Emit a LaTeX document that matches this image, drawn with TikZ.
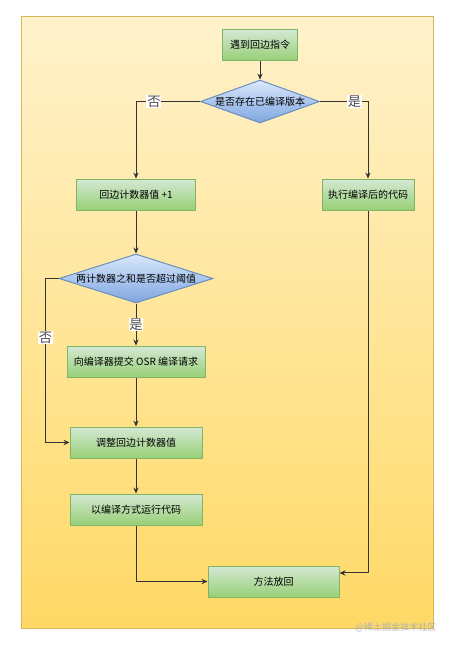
\documentclass[tikz,border=0pt]{standalone}
\usepackage{fontspec}
\setmainfont{Noto Sans CJK SC}
\usepackage{tikz}
\usetikzlibrary{arrows.meta,positioning,shapes.geometric}
\definecolor{osrbg}{HTML}{FFF2CC}
\definecolor{osrbgd}{HTML}{FFD966}
\definecolor{osrbgline}{HTML}{D6B656}
\definecolor{osrgreen}{HTML}{D5E8D4}
\definecolor{osrgreend}{HTML}{97D077}
\definecolor{osrgreenline}{HTML}{82B366}
\definecolor{osrblue}{HTML}{DAE8FC}
\definecolor{osrblued}{HTML}{7EA6E0}
\definecolor{osrblueline}{HTML}{6C8EBF}
\definecolor{osrline}{HTML}{333333}
\tikzset{
  stepbox/.style  = {draw=osrgreenline, top color=osrgreen, bottom color=osrgreend,
                     line width=0.75pt, align=center, inner sep=0pt,
                     font=\fontsize{7.5pt}{9pt}\selectfont,
                     minimum height=23.25pt},
  choice/.style   = {draw=osrblueline, top color=osrblue, bottom color=osrblued,
                     line width=0.75pt, diamond, inner sep=0pt, align=center,
                     font=\fontsize{7.5pt}{9pt}\selectfont},
  %
  flow/.style     = {-{Stealth[length=4.5pt,width=4pt]}, draw=osrline,
                     line width=0.75pt},
  lbl/.style      = {font=\fontsize{10pt}{11pt}\selectfont, fill=white,
                     inner sep=0.6pt, text=black!70},
  wmark/.style    = {font=\fontsize{6.8pt}{8pt}\selectfont, text=black!30,
                     inner sep=0pt},
}

\begin{document}
\begin{tikzpicture}[x=0.75pt, y=-0.75pt]

  \useasboundingbox (0,0) rectangle (453,646);

  % ---------- background ---------------------------------------------------
  \draw[draw=osrbgline, line width=0.75pt, top color=osrbg, bottom color=osrbgd]
    (21,16) rectangle (433,628);

  % ---------- main column ----------------------------------------------------
  \node[stepbox, minimum width=56.25pt] (start) at (260,45) {遇到回边指令};
  \node[choice, aspect=2.77, minimum width=89.25pt, minimum height=32.25pt]
    (q1) at (260,101.5) {是否存在已编译版本};
  \node[stepbox, minimum width=89.25pt] (inc) at (136,194.5) {回边计数器值 +1};
  \node[stepbox, minimum width=69pt] (run) at (368,194.5) {执行编译后的代码};
  \node[choice, aspect=3.14, minimum width=115.5pt, minimum height=36.75pt]
    (q2) at (136,278.5) {两计数器之和是否超过阈值};
  \node[stepbox, minimum width=103.5pt] (osr) at (136,361.5) {向编译器提交 OSR 编译请求};
  \node[stepbox, minimum width=99pt] (adj) at (136,442.5) {调整回边计数器值};
  \node[stepbox, minimum width=99pt] (exec) at (136,509.5) {以编译方式运行代码};
  \node[stepbox, minimum width=98.25pt] (ret) at (273.5,581.5) {方法放回};

  % ---------- connectors --------------------------------------------------
  \draw[flow] (start.south) -- (q1.north);
  \draw[flow] (q1.west) -| node[lbl, pos=0.36] {否} (inc.north);
  \draw[flow] (q1.east) -| node[lbl, pos=0.36] {是} (run.north);
  \draw[flow] (inc.south) -- (q2.north);
  \draw[flow] (q2.south) -- node[lbl, midway] {是} (osr.north);
  \draw[flow] (q2.west) -- ++(-13,0) |- node[lbl, pos=0.18] {否} (adj.west);
  \draw[flow] (osr.south) -- (adj.north);
  \draw[flow] (adj.south) -- (exec.north);
  \draw[flow] (exec.south) |- (ret.west);
  \draw[flow] (run.south) |- ([yshift=6.4pt]ret.east);

  \node[wmark] (wm) at (396,627) {@稀土掘金技术社区};

\end{tikzpicture}
\end{document}
